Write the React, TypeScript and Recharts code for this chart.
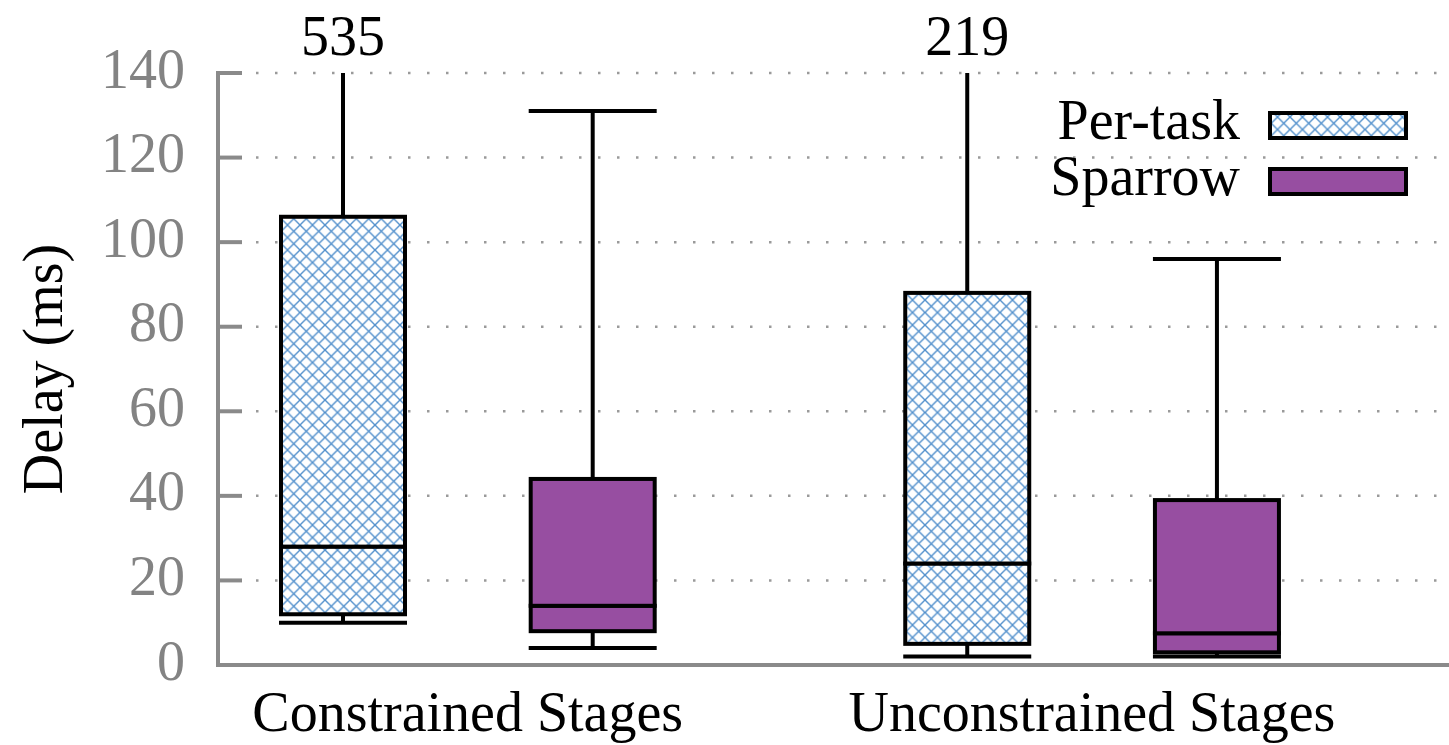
import React from 'react';
import { ComposedChart, Bar, XAxis, YAxis, CartesianGrid, Legend } from 'recharts';

// Stage groups along the x axis and the two schedulers compared in each
const GROUPS = ['Constrained Stages', 'Unconstrained Stages'];
const SERIES = ['Per-task', 'Sparrow'];

// Box statistics (ms), one entry per group
const perTaskMin = [10, 2];
const perTaskQ1 = [12, 5];
const perTaskMedian = [28, 24];
const perTaskQ3 = [106, 88];
const perTaskMax = [535, 219];

const sparrowMin = [4, 2];
const sparrowQ1 = [8, 3];
const sparrowMedian = [14, 7.5];
const sparrowQ3 = [44, 39];
const sparrowMax = [131, 96];

const Y_TICKS = [0, 20, 40, 60, 80, 100, 120, 140];
const Y_MAX = 140;

// layout of the grouped boxes on a numeric x axis
const GROUP_STRIDE = 2.5;
const X_DOMAIN: [number, number] = [0.5, 5.43];
const GROUP_TICKS = GROUPS.map((_, gi) => gi * GROUP_STRIDE + 1.5);

const FONT = '"Liberation Serif", "Times New Roman", Times, serif';
const AXIS_GREY = '#8a8a8a';
const TICK_TEXT_GREY = '#838383';
const SPARROW_FILL = '#974ea1';
const HATCH_BLUE = '#5290cc';
const BOX_W = 124;
const LINE_W = 4;

const SERIES_STATS = [
  { min: perTaskMin, q1: perTaskQ1, median: perTaskMedian, q3: perTaskQ3, max: perTaskMax },
  { min: sparrowMin, q1: sparrowQ1, median: sparrowMedian, q3: sparrowQ3, max: sparrowMax },
];

// one row per box; stacked segments build the box from bottom to top
const rows = GROUPS.flatMap((group, gi) =>
  SERIES.map((name, si) => {
    const s = SERIES_STATS[si];
    const min = s.min[gi];
    const q1 = s.q1[gi];
    const median = s.median[gi];
    const q3 = s.q3[gi];
    const max = s.max[gi];
    return {
      pos: gi * GROUP_STRIDE + si + 1,
      group,
      series: si,
      min,
      q1,
      median,
      q3,
      max,
      base: min,
      lowWhisker: q1 - min,
      lowBox: median - q1,
      highBox: q3 - median,
      highWhisker: Math.min(max, Y_MAX) - q3,
    };
  })
);

const boxFill = (series: number) => (series === 0 ? 'url(#crosshatch)' : SPARROW_FILL);

const EmptyShape = () => <g />;

const LowWhiskerShape = (props: any) => {
  const { x, y, width, height } = props;
  const cx = x + width / 2;
  return (
    <g>
      <line x1={cx} x2={cx} y1={y} y2={y + height} stroke="#000" strokeWidth={LINE_W} />
      <line x1={x} x2={x + width} y1={y + height} y2={y + height} stroke="#000" strokeWidth={LINE_W} strokeLinecap="square" />
    </g>
  );
};

const BoxShape = (props: any) => {
  const { x, y, width, height, payload } = props;
  return (
    <g>
      {payload.series === 0 && <rect x={x} y={y} width={width} height={height} fill="#fff" />}
      <rect x={x} y={y} width={width} height={height} fill={boxFill(payload.series)} stroke="#000" strokeWidth={LINE_W} />
    </g>
  );
};

const HighWhiskerShape = (props: any) => {
  const { x, y, width, height, payload } = props;
  const cx = x + width / 2;
  const clipped = payload.max > Y_MAX;
  return (
    <g>
      <line x1={cx} x2={cx} y1={y} y2={y + height} stroke="#000" strokeWidth={LINE_W} />
      {clipped ? (
        <text x={cx} y={y - 18} textAnchor="middle" fontFamily={FONT} fontSize={56} fill="#000">
          {payload.max}
        </text>
      ) : (
        <line x1={x} x2={x + width} y1={y} y2={y} stroke="#000" strokeWidth={LINE_W} strokeLinecap="square" />
      )}
    </g>
  );
};

const TICK_GAP = 33;
const TICK_LEN = 24;

const YTick = (props: any) => {
  const { x, y, payload } = props;
  const axisX = x + TICK_GAP;
  return (
    <g>
      <line x1={axisX} x2={axisX + TICK_LEN} y1={y} y2={y} stroke={AXIS_GREY} strokeWidth={4} />
      <text x={x} y={y + 14.5} textAnchor="end" fontFamily={FONT} fontSize={56} fill={TICK_TEXT_GREY}>
        {payload.value}
      </text>
    </g>
  );
};

const XTick = (props: any) => {
  const { x, y, index } = props;
  return (
    <text x={x} y={y + 66} textAnchor="middle" fontFamily={FONT} fontSize={56} fill="#000">
      {GROUPS[index]}
    </text>
  );
};

const YLabel = (props: any) => {
  const vb = props.viewBox || { x: 0, y: 73, width: 218, height: 592 };
  const lx = vb.x + 62;
  const ly = vb.y + vb.height / 2;
  return (
    <text x={lx} y={ly} transform={`rotate(-90 ${lx} ${ly})`} textAnchor="middle" fontFamily={FONT} fontSize={56} fill="#000">
      Delay (ms)
    </text>
  );
};

const LegendBox = () => (
  <svg width={400} height={115} style={{ display: 'block', overflow: 'visible' }}>
    <defs>
      <pattern id="crosshatch-legend" patternUnits="userSpaceOnUse" width={12.5} height={12.5}>
        <path d="M0,0 L12.5,12.5 M12.5,0 L0,12.5" stroke={HATCH_BLUE} strokeWidth={1.4} />
      </pattern>
    </defs>
    {SERIES.map((name, si) => {
      const rowY = si === 0 ? 21 : 77;
      return (
        <g key={name}>
          <text x={200} y={rowY + 26} textAnchor="end" fontFamily={FONT} fontSize={56} fill="#000">
            {name}
          </text>
          <rect x={230} y={rowY} width={136} height={25} fill="#fff" />
          <rect
            x={230}
            y={rowY}
            width={136}
            height={25}
            fill={si === 0 ? 'url(#crosshatch-legend)' : SPARROW_FILL}
            stroke="#000"
            strokeWidth={LINE_W}
          />
        </g>
      );
    })}
  </svg>
);

export default function App() {
  const axisLine = { stroke: AXIS_GREY, strokeWidth: 4, strokeLinecap: 'square' as const };
  return (
    <div style={{ position: 'absolute', left: 0, top: 0, width: 1449, height: 745, background: '#fff' }}>
      <ComposedChart width={1449} height={745} data={rows} margin={{ top: 73, right: 0, bottom: 0, left: 0 }}>
        <defs>
          <pattern id="crosshatch" patternUnits="userSpaceOnUse" width={12.5} height={12.5}>
            <path d="M0,0 L12.5,12.5 M12.5,0 L0,12.5" stroke={HATCH_BLUE} strokeWidth={1.4} />
          </pattern>
        </defs>
        <CartesianGrid vertical={false} stroke="#9a9a9a" strokeWidth={2.5} strokeDasharray="2.5 16.5" />
        <XAxis
          type="number"
          dataKey="pos"
          domain={X_DOMAIN}
          ticks={GROUP_TICKS}
          interval={0}
          height={80}
          tickSize={0}
          tickMargin={0}
          tickLine={false}
          axisLine={axisLine}
          tick={<XTick />}
          allowDataOverflow
        />
        <YAxis
          type="number"
          domain={[0, Y_MAX]}
          ticks={Y_TICKS}
          interval={0}
          width={218}
          tickSize={0}
          tickMargin={TICK_GAP}
          tickLine={false}
          axisLine={axisLine}
          tick={<YTick />}
          label={(p: any) => <YLabel {...p} />}
        />
        <Bar dataKey="base" stackId="box" barSize={BOX_W} shape={<EmptyShape />} isAnimationActive={false} legendType="none" />
        <Bar dataKey="lowWhisker" stackId="box" barSize={BOX_W} shape={(p: any) => <LowWhiskerShape {...p} />} isAnimationActive={false} legendType="none" />
        <Bar dataKey="lowBox" stackId="box" barSize={BOX_W} shape={(p: any) => <BoxShape {...p} />} isAnimationActive={false} legendType="none" />
        <Bar dataKey="highBox" stackId="box" barSize={BOX_W} shape={(p: any) => <BoxShape {...p} />} isAnimationActive={false} legendType="none" />
        <Bar dataKey="highWhisker" stackId="box" barSize={BOX_W} shape={(p: any) => <HighWhiskerShape {...p} />} isAnimationActive={false} legendType="none" />
        <Legend
          layout="horizontal"
          align="center"
          verticalAlign="middle"
          content={() => <LegendBox />}
          wrapperStyle={{ left: 1040, top: 92, width: 400, height: 115 }}
        />
      </ComposedChart>
    </div>
  );
}
